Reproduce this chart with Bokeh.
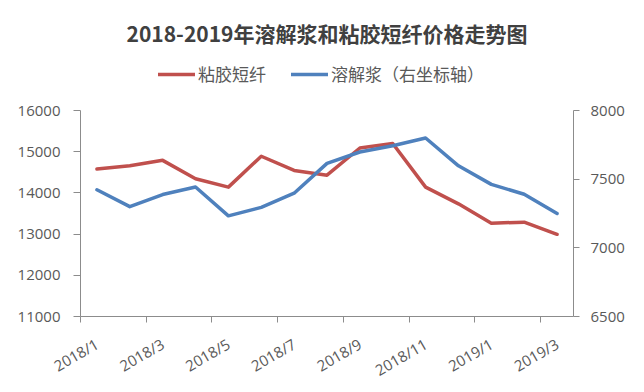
import math
from bokeh.plotting import figure
from bokeh.models import Range1d, LinearAxis, FixedTicker, ColumnDataSource
from bokeh.embed import file_html
from bokeh.resources import INLINE

# ---- data ----
months = ["2018/1", "2018/2", "2018/3", "2018/4", "2018/5", "2018/6", "2018/7", "2018/8",
          "2018/9", "2018/10", "2018/11", "2018/12", "2019/1", "2019/2", "2019/3"]
viscose = [14580, 14660, 14790, 14345, 14140, 14890, 14545, 14430, 15090, 15200,
           14140, 13735, 13265, 13290, 12995]
pulp = [7423, 7300, 7388, 7443, 7233, 7295, 7398, 7615, 7698, 7743,
        7800, 7597, 7462, 7390, 7250]
left_ticks = [11000, 12000, 13000, 14000, 15000, 16000]
right_ticks = [6500, 7000, 7500, 8000]

idx = list(range(len(months)))
src = ColumnDataSource(dict(x=idx, viscose=viscose, pulp=pulp))

RED = "#C0504D"
BLUE = "#4F81BD"
AXIS = "#8C8C8C"
TXT = "#595959"
TICK_FONT = "Open Sans"
CJK = "Noto Sans CJK SC"

# layout (pixels)
W, H = 644, 392
B_LEFT, B_RIGHT, B_TOP, B_BOTTOM = 80, 71, 56, 76
HEADROOM = 54                      # space inside the frame above the top tick (legend lives here)
frame_h = H - B_TOP - B_BOTTOM
axis_h = frame_h - HEADROOM

def extended(lo, hi):
    return Range1d(lo, hi + (hi - lo) * HEADROOM / axis_h)

p = figure(width=W, height=H, output_backend="svg", toolbar_location=None,
           x_range=Range1d(-0.5, len(months) - 0.5),
           y_range=extended(left_ticks[0], left_ticks[-1]),
           min_border_left=B_LEFT, min_border_right=B_RIGHT,
           min_border_top=B_TOP, min_border_bottom=B_BOTTOM,
           title="2018-2019年溶解浆和粘胶短纤价格走势图")
p.extra_y_ranges = {"right": extended(right_ticks[0], right_ticks[-1])}
p.styles = {"outline": "2px solid #D9D9D9", "outline-offset": "-4px"}

p.title.text_font = CJK
p.title.text_font_size = "21px"
p.title.text_font_style = "bold"
p.title.text_color = "#404040"
p.title.align = "center"
p.title.standoff = 17
p.title.offset = -3

p.outline_line_color = None
p.xgrid.visible = False
p.ygrid.visible = False
p.background_fill_color = "white"
p.border_fill_color = "white"

# x axis: labels at every other month, tick marks at category boundaries
xa = p.xaxis[0]
xa.ticker = FixedTicker(ticks=idx[::2], minor_ticks=[i - 0.5 for i in idx[::2]])
xa.major_label_overrides = {i: months[i] for i in idx[::2]}
xa.major_tick_out = 0
xa.major_tick_in = 0
xa.minor_tick_out = 6
xa.minor_tick_in = 0
xa.minor_tick_line_color = AXIS
xa.axis_line_color = AXIS
xa.major_label_orientation = math.radians(30)
xa.major_label_text_font = TICK_FONT
xa.major_label_text_font_size = "15px"
xa.major_label_text_color = TXT
xa.major_label_standoff = 20

ya = p.yaxis[0]
ya.ticker = FixedTicker(ticks=left_ticks)
ya.bounds = (left_ticks[0], left_ticks[-1])
ya.major_tick_out = 7
ya.major_tick_in = 0
ya.minor_tick_out = 0
ya.minor_tick_in = 0
ya.axis_line_color = AXIS
ya.major_tick_line_color = AXIS
ya.major_label_text_font = TICK_FONT
ya.major_label_text_font_size = "15px"
ya.major_label_text_color = TXT
ya.major_label_standoff = 13

ra = LinearAxis(y_range_name="right", ticker=FixedTicker(ticks=right_ticks),
                bounds=(right_ticks[0], right_ticks[-1]))
ra.major_tick_out = 6
ra.major_tick_in = 0
ra.minor_tick_out = 0
ra.minor_tick_in = 0
ra.axis_line_color = AXIS
ra.major_tick_line_color = AXIS
ra.major_label_text_font = TICK_FONT
ra.major_label_text_font_size = "15px"
ra.major_label_text_color = TXT
ra.major_label_standoff = 11
p.add_layout(ra, "right")

p.line("x", "viscose", source=src, color=RED, line_width=3.5, line_join="round",
       line_cap="round", legend_label="粘胶短纤")
p.line("x", "pulp", source=src, color=BLUE, line_width=3.5, line_join="round",
       line_cap="round", y_range_name="right", legend_label="溶解浆（右坐标轴）")

lg = p.legend[0]
lg.location = (78, frame_h - 30)
lg.orientation = "horizontal"
lg.border_line_color = None
lg.background_fill_alpha = 0
lg.padding = 0
lg.margin = 0
lg.spacing = 25
lg.glyph_width = 37
lg.label_standoff = 3
lg.label_text_font = CJK
lg.label_text_font_size = "17px"
lg.label_text_color = TXT

open("out.html", "w").write(file_html(p, INLINE))
